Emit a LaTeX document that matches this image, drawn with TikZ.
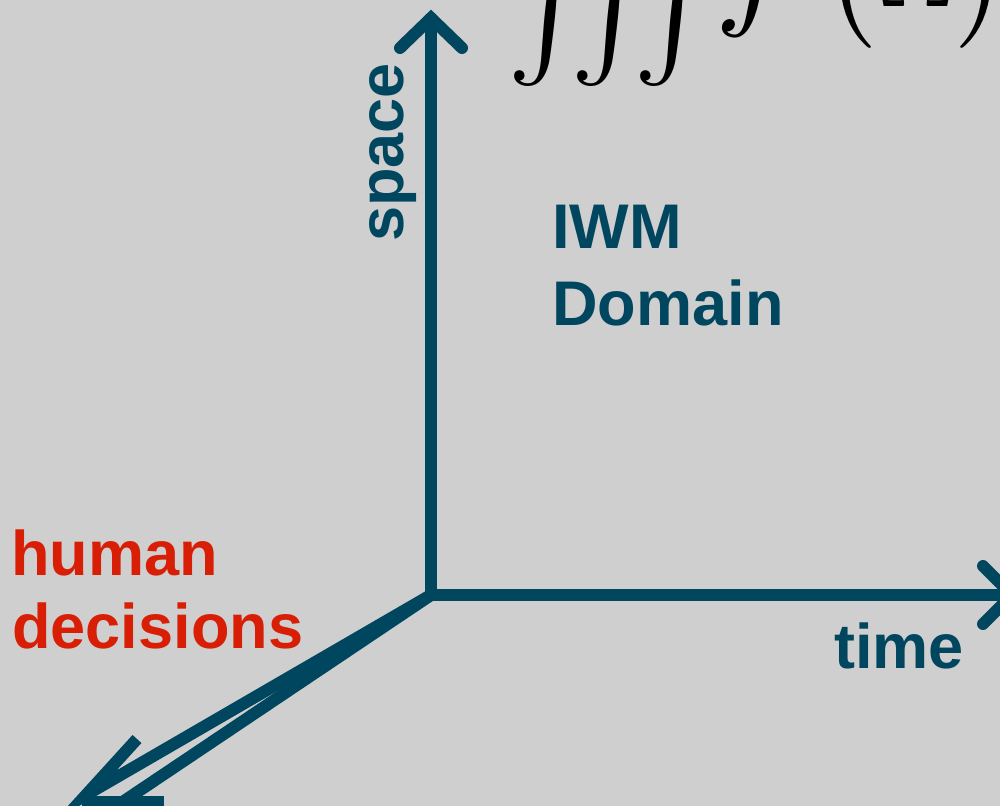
\documentclass[tikz,border=0pt]{standalone}
\usepackage{amsmath}
\usepackage{graphicx}
\usepackage{fontspec}
\setsansfont{Liberation Sans}
\definecolor{canvas}{HTML}{CFCFCF}
\definecolor{axisblue}{HTML}{00465F}
\definecolor{humanred}{HTML}{D81E05}
\begin{document}
\begin{tikzpicture}[x=0.75pt,y=-0.75pt,
  axis/.style={draw=axisblue,line width=9pt,line cap=round,line join=miter},
  axisflat/.style={draw=axisblue,line width=9pt,line cap=butt,line join=miter},
  label/.style={inner sep=0pt,font=\sffamily\bfseries\fontsize{47.3pt}{55pt}\selectfont},
  bluelabel/.style={label,text=axisblue},
  redlabel/.style={label,text=humanred},
  mathpart/.style={inner sep=0pt,anchor=base west}]
\useasboundingbox (0,0) rectangle (1000,806);
\fill[canvas] (0,0) rectangle (1000,806);
\clip (0,0) rectangle (1000,806);

% origin and axis end points
\coordinate (O) at (431,595);
\coordinate (up) at (431,18);
\coordinate (upL) at (400,48);
\coordinate (upR) at (462,48);
\coordinate (rt) at (1012,595);
\coordinate (rtU) at (983,566);
\coordinate (rtD) at (983,624);
\coordinate (dl) at (86,795);
\coordinate (dlW) at (137,739);
\coordinate (dl2) at (124,801);
\coordinate (barL) at (82,802);
\coordinate (barR) at (164,802);

% space and time axes
\draw[axis] (O) -- (up);
\draw[axis] (upL) -- (up) -- (upR);
\draw[axis] (O) -- (rt);
\draw[axis] (rtU) -- (rt) -- (rtD);

% human decisions axis
\draw[axisflat] (O) -- (dl) -- (dlW);
\draw[axisflat] (O) -- (dl2);
\draw[axisflat] (barL) -- (barR);

% labels
\node[bluelabel,rotate=90,anchor=base west] (space) at (403,242) {space};
\node[bluelabel,anchor=base west] (iwm) at (552,248) {IWM};
\node[bluelabel,anchor=base west] (domain) at (552,325) {Domain};
\node[bluelabel,anchor=base west] (time) at (834,668) {time};
\node[redlabel,anchor=base west] (human) at (11,575) {human};
\node[redlabel,anchor=base west] (decisions) at (12,648) {decisions};

% integral formula
\node[mathpart] (integrals) at (507,48) {\scalebox{3.80}{\Huge$\iiint$}};
\node[mathpart] (integrand) at (714,7) {\scalebox{4.67}{\Huge$f$}};
\node[mathpart] (argument) at (822,7) {\scalebox{3.56}{\Huge$\bigl(\Omega\bigr)$}};
\end{tikzpicture}
\end{document}
